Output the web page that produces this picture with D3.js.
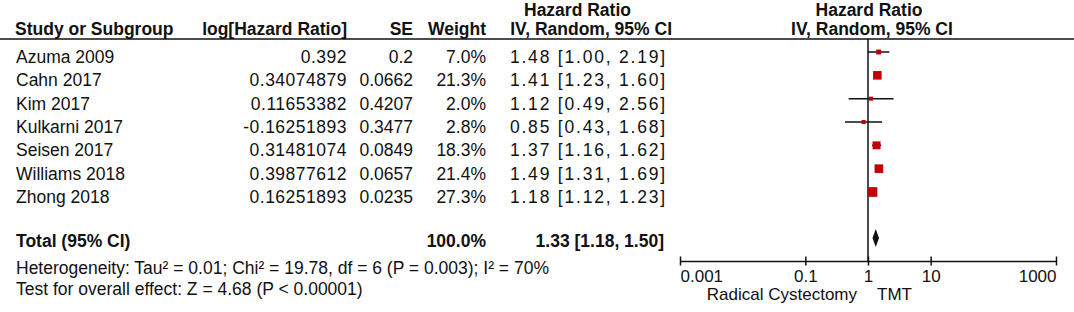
<!DOCTYPE html>
<html>
<head>
<meta charset="utf-8">
<script src="https://cdn.jsdelivr.net/npm/d3@7"></script>
<style>
  body { margin: 0; background: #fff; }
  svg { display: block; }
  text { font-family: 'Liberation Sans', Arial, sans-serif; font-size: 17.5px; fill: #111; }
  .bold { font-weight: bold; }
  .axis-label { font-size: 17px; }
</style>
</head>
<body>
<div id="forest"></div>
<script>
// data
var studies = ['Azuma 2009', 'Cahn 2017', 'Kim 2017', 'Kulkarni 2017', 'Seisen 2017', 'Williams 2018', 'Zhong 2018']
var logHR = ['0.392', '0.34074879', '0.11653382', '-0.16251893', '0.31481074', '0.39877612', '0.16251893']
var se = ['0.2', '0.0662', '0.4207', '0.3477', '0.0849', '0.0657', '0.0235']
var weights = [7.0, 21.3, 2.0, 2.8, 18.3, 21.4, 27.3]
var hr = [1.48, 1.41, 1.12, 0.85, 1.37, 1.49, 1.18]
var lower = [1.00, 1.23, 0.49, 0.43, 1.16, 1.31, 1.12]
var upper = [2.19, 1.60, 2.56, 1.68, 1.62, 1.69, 1.23]

var total = { weight: 100.0, hr: 1.33, lower: 1.18, upper: 1.50 }

var tickValues = [0.001, 0.1, 1, 10, 1000]
var tickLabels = ['0.001', '0.1', '1', '10', '1000']

var heterogeneity = 'Heterogeneity: Tau² = 0.01; Chi² = 19.78, df = 6 (P = 0.003); I² = 70%'
var overall = 'Test for overall effect: Z = 4.68 (P < 0.00001)'

var width = 1074
var height = 312

var svg = d3
  .select('#forest')
  .append('svg')
  .attr('width', width)
  .attr('height', height)

// scales
var xScale = d3.scaleLog().domain([0.001, 1000]).range([680, 1056])
var yScale = d3.scaleLinear().domain([0, 6]).range([52, 192])
var sizeScale = d3.scaleSqrt().domain([0, 27.3]).range([0, 9.7])

var axisY = 261
var totalY = 238

var f1 = d3.format('.1f')
var f2 = d3.format('.2f')
function ciText(h, l, u) {
  return f2(h) + ' [' + f2(l) + ', ' + f2(u) + ']'
}

// header
svg.append('text').attr('class', 'bold').attr('x', 524).attr('y', 16).text('Hazard Ratio')
svg.append('text').attr('class', 'bold').attr('x', 869).attr('y', 16)
  .attr('text-anchor', 'middle').text('Hazard Ratio')

var headers = [
  { t: 'Study or Subgroup', x: 15, a: 'start' },
  { t: 'log[Hazard Ratio]', x: 347, a: 'end' },
  { t: 'SE', x: 413, a: 'end' },
  { t: 'Weight', x: 486, a: 'end' },
  { t: 'IV, Random, 95% CI', x: 672, a: 'end' },
  { t: 'IV, Random, 95% CI', x: 872, a: 'middle' }
]
svg.selectAll('.hdr')
  .data(headers)
  .enter()
  .append('text')
  .attr('class', 'hdr bold')
  .attr('x', d => d.x)
  .attr('y', 35)
  .attr('text-anchor', d => d.a)
  .text(d => d.t)

svg.append('line')
  .attr('x1', 0).attr('x2', width)
  .attr('y1', 39).attr('y2', 39)
  .attr('stroke', '#111').attr('stroke-width', 1.5)

// study rows
var rows = svg.selectAll('.row')
  .data(studies)
  .enter()
  .append('g')
  .attr('class', 'row')
  .attr('transform', (d, i) => 'translate(0,' + (yScale(i) + 11) + ')')

rows.append('text').attr('x', 16).text(d => d)
rows.append('text').attr('x', 347).attr('text-anchor', 'end')
  .style('letter-spacing', '0.5px').text((d, i) => logHR[i])
rows.append('text').attr('x', 413).attr('text-anchor', 'end').text((d, i) => se[i])
rows.append('text').attr('x', 486).attr('text-anchor', 'end').text((d, i) => f1(weights[i]) + '%')
rows.append('text').attr('x', 667).attr('text-anchor', 'end')
  .style('letter-spacing', '1.8px')
  .text((d, i) => ciText(hr[i], lower[i], upper[i]))

// total row
svg.append('text').attr('class', 'bold').attr('x', 16).attr('y', totalY + 9).text('Total (95% CI)')
svg.append('text').attr('class', 'bold').attr('x', 486).attr('y', totalY + 9)
  .attr('text-anchor', 'end').text(f1(total.weight) + '%')
svg.append('text').attr('class', 'bold').attr('x', 664).attr('y', totalY + 9)
  .attr('text-anchor', 'end').text(ciText(total.hr, total.lower, total.upper))

svg.append('text').attr('x', 16).attr('y', 274).text(heterogeneity)
svg.append('text').attr('x', 16).attr('y', 295).text(overall)

// plot: line of no effect
svg.append('line')
  .attr('x1', xScale(1)).attr('x2', xScale(1))
  .attr('y1', 39).attr('y2', axisY)
  .attr('stroke', '#111').attr('stroke-width', 1.5)

// CI whiskers
svg.selectAll('.ci')
  .data(studies)
  .enter()
  .append('line')
  .attr('class', 'ci')
  .attr('x1', (d, i) => xScale(lower[i]))
  .attr('x2', (d, i) => xScale(upper[i]))
  .attr('y1', (d, i) => yScale(i))
  .attr('y2', (d, i) => yScale(i))
  .attr('stroke', '#111')
  .attr('stroke-width', 1.5)

// weight squares
svg.selectAll('.sq')
  .data(studies)
  .enter()
  .append('rect')
  .attr('class', 'sq')
  .attr('x', (d, i) => xScale(hr[i]) - Math.max(4, sizeScale(weights[i])) / 2)
  .attr('y', (d, i) => yScale(i) - Math.max(4, sizeScale(weights[i])) / 2)
  .attr('width', (d, i) => Math.max(4, sizeScale(weights[i])))
  .attr('height', (d, i) => Math.max(4, sizeScale(weights[i])))
  .attr('fill', '#c00000')

// pooled diamond
var diamond = [
  [xScale(total.lower), totalY],
  [xScale(total.hr), totalY - 9],
  [xScale(total.upper), totalY],
  [xScale(total.hr), totalY + 9]
]
svg.append('path')
  .attr('d', 'M' + diamond.join('L') + 'Z')
  .attr('fill', '#111')

// axis
var xAxis = d3.axisBottom(xScale)
  .tickValues(tickValues)
  .tickFormat((d, i) => tickLabels[i])
  .tickSizeOuter(0)

var axisG = svg.append('g')
  .attr('class', 'axis x-axis')
  .attr('transform', 'translate(0,' + axisY + ')')
  .call(xAxis)

axisG.select('.domain').attr('stroke', '#111').attr('stroke-width', 1.5)
axisG.selectAll('.tick line')
  .attr('y1', -4.5).attr('y2', 4.5)
  .attr('stroke', '#111').attr('stroke-width', 1.5)
axisG.selectAll('.tick text')
  .attr('class', 'axis-label')
  .attr('y', 21).attr('dy', 0)
  .attr('font-size', null).attr('font-family', null)
  .attr('fill', '#111')
  .attr('text-anchor', (d, i) => i === 0 ? 'start' : (i === tickValues.length - 1 ? 'end' : 'middle'))

svg.append('text').attr('class', 'axis-label').attr('x', 857).attr('y', 300)
  .attr('text-anchor', 'end').text('Radical Cystectomy')
svg.append('text').attr('class', 'axis-label').attr('x', 877).attr('y', 300).text('TMT')
</script>
</body>
</html>
